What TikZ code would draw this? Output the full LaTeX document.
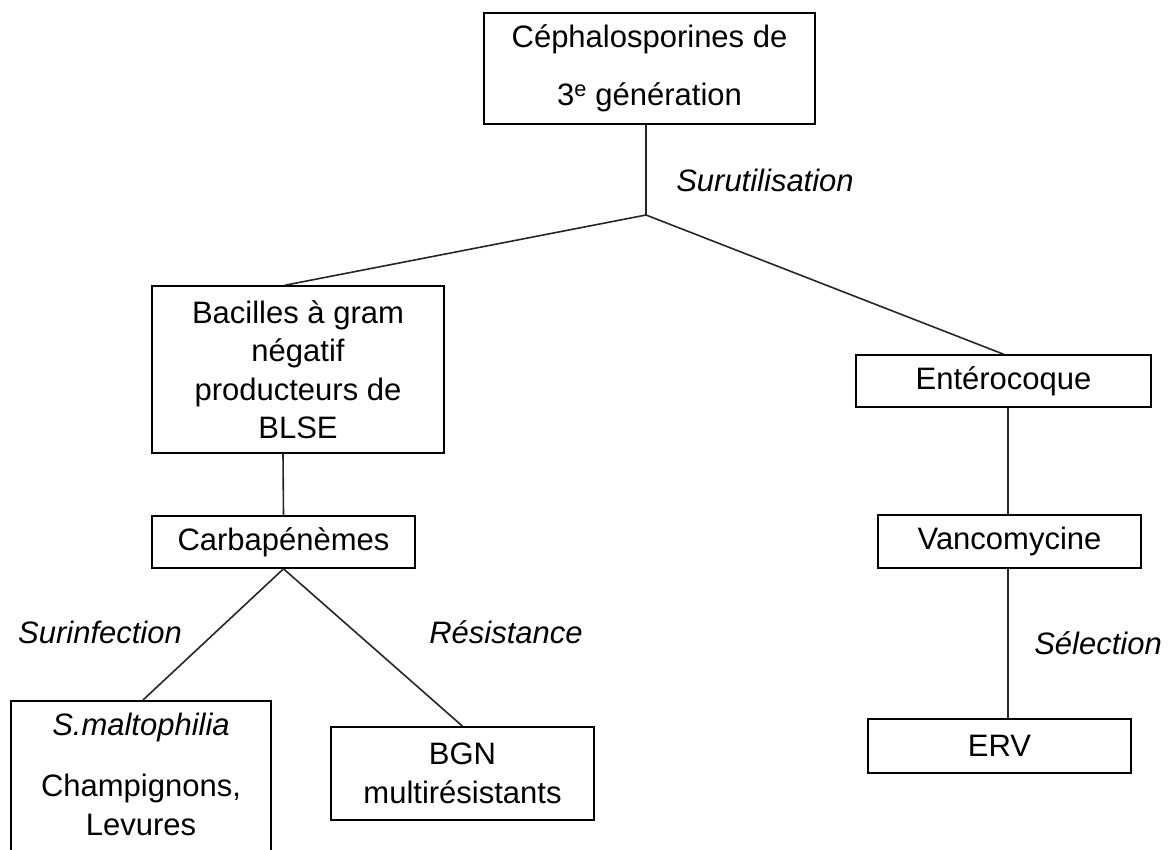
\documentclass[tikz,border=0pt]{standalone}
\usepackage{fontspec}
\setmainfont{Liberation Sans}
\begin{document}
\begin{tikzpicture}[x=1pt,y=-1pt,
  every node/.style={font=\fontsize{31}{38.5}\selectfont, inner sep=0pt},
  box/.style={draw, line width=1.6pt, rectangle, align=center},
  link/.style={line width=1.6pt, draw=black!85},
  lbl/.style={font=\fontsize{31}{38.5}\selectfont\itshape}]
  \useasboundingbox (0,0) rectangle (1174,849);
  \fill[white] (0,0) rectangle (1174,849);

  % top level
  \node[box, minimum width=331pt, minimum height=111pt] (ceph) at (649.5,68.5)
    {Céphalosporines de\\[20pt]3\textsuperscript{e} génération};
  \coordinate (fork) at (646,215);
  \node[lbl] (suru) at (765,180) {Surutilisation};

  % left branch
  \node[box, minimum width=292pt, minimum height=167pt] (bacil) at (298,369.5)
    {Bacilles à gram\\négatif\\producteurs de\\BLSE};
  \node[box, minimum width=263pt, minimum height=52pt] (carba) at (283.5,542)
    {Carbapénèmes};
  \node[lbl] (surinf) at (100,632) {Surinfection};
  \node[lbl] (resist) at (506,632) {Résistance};
  \node[box, minimum width=260pt, minimum height=170pt, anchor=north] (steno) at (141,700) {};
  \node (stenoA) at (141,727) {\itshape S.maltophilia};
  \node[align=center] (stenoB) at (141,805) {Champignons,\\Levures};
  \node[box, minimum width=263pt, minimum height=93pt] (bgn) at (462.5,773.5)
    {BGN\\multirésistants};

  % right branch
  \node[box, minimum width=295pt, minimum height=52pt] (entero) at (1003.5,381)
    {Entérocoque};
  \node[box, minimum width=263pt, minimum height=53pt] (vanco) at (1009.5,541.5)
    {Vancomycine};
  \node[lbl] (selec) at (1098,643) {Sélection};
  \node[box, minimum width=263pt, minimum height=54pt] (erv) at (999.5,746)
    {ERV};

  % connectors
  \draw[link] ([xshift=-3.5pt]ceph.south) -- (fork);
  \draw[link] (fork) -- ([xshift=-13pt]bacil.north);
  \draw[link] (fork) -- (entero.north);
  \draw[link] ([xshift=-15pt]bacil.south) -- (carba.north);
  \draw[link] (carba.south) -- ([xshift=2pt]steno.north);
  \draw[link] (carba.south) -- (bgn.north);
  \draw[link] ([xshift=4.5pt]entero.south) -- ([xshift=-1.5pt]vanco.north);
  \draw[link] ([xshift=-1.5pt]vanco.south) -- ([xshift=8.5pt]erv.north);
\end{tikzpicture}
\end{document}
